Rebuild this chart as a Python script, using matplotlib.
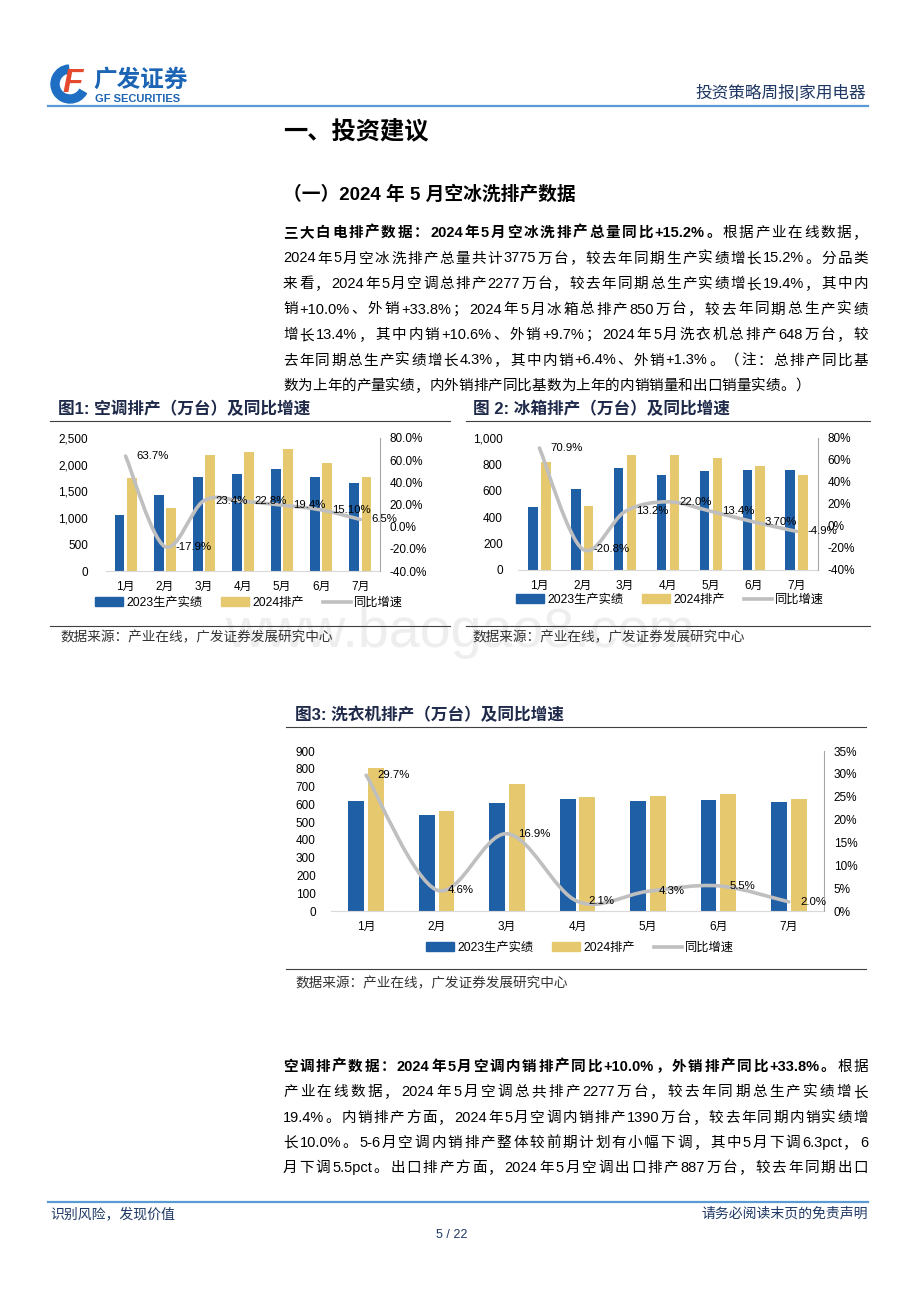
import re
import numpy as np
import matplotlib
matplotlib.use('Agg')
import matplotlib.pyplot as plt
from matplotlib.path import Path
from matplotlib.patches import PathPatch, Patch, Wedge
from matplotlib.lines import Line2D
from matplotlib.font_manager import FontProperties

plt.rcParams['font.family'] = ['Liberation Sans', 'Noto Sans CJK SC']

W, H = 920, 1302
BLUE = '#1F5FA6'
GOLD = '#E6C86E'
GREY = '#BFBFBF'
NAVY = '#1F3864'
TITLE = '#1F2A4A'

months = ['1月', '2月', '3月', '4月', '5月', '6月', '7月']
series_names = ['2023生产实绩', '2024排产', '同比增速']

# 图1 空调排产（万台）
ac_2023 = [1055, 1425, 1770, 1820, 1920, 1770, 1655]
ac_2024 = [1752, 1180, 2185, 2236, 2293, 2035, 1763]
ac_yoy = [63.7, -17.9, 23.4, 22.8, 19.4, 15.1, 6.5]
ac_lbl = ['63.7%', '-17.9%', '23.4%', '22.8%', '19.4%', '15.10%', '6.5%']

# 图2 冰箱排产（万台）
fr_2023 = [481, 615, 772, 716, 749, 759, 754]
fr_2024 = [818, 486, 873, 872, 848, 790, 722]
fr_yoy = [70.9, -20.8, 13.2, 22.0, 13.4, 3.7, -4.9]
fr_lbl = ['70.9%', '-20.8%', '13.2%', '22.0%', '13.4%', '3.70%', '-4.9%']

# 图3 洗衣机排产（万台）
wm_2023 = [619, 540, 609, 628, 619, 624, 614]
wm_2024 = [806, 562, 714, 639, 647, 656, 628]
wm_yoy = [29.7, 4.6, 16.9, 2.1, 4.3, 5.5, 2.0]
wm_lbl = ['29.7%', '4.6%', '16.9%', '2.1%', '4.3%', '5.5%', '2.0%']

para1 = [
    [('三大白电排产数据：2024年5月空冰洗排产总量同比+15.2%。', True), ('根据产业在线数据，', False)],
    [('2024年5月空冰洗排产总量共计3775万台，较去年同期生产实绩增长15.2%。分品类', False)],
    [('来看，2024年5月空调总排产2277万台，较去年同期总生产实绩增长19.4%，其中内', False)],
    [('销+10.0%、外销+33.8%；2024年5月冰箱总排产850万台，较去年同期总生产实绩', False)],
    [('增长13.4%，其中内销+10.6%、外销+9.7%；2024年5月洗衣机总排产648万台，较', False)],
    [('去年同期总生产实绩增长4.3%，其中内销+6.4%、外销+1.3%。（注：总排产同比基', False)],
    [('数为上年的产量实绩，内外销排产同比基数为上年的内销销量和出口销量实绩。）', False)],
]
para2 = [
    [('空调排产数据：2024年5月空调内销排产同比+10.0%，外销排产同比+33.8%。', True), ('根据', False)],
    [('产业在线数据，2024年5月空调总共排产2277万台，较去年同期总生产实绩增长', False)],
    [('19.4%。内销排产方面，2024年5月空调内销排产1390万台，较去年同期内销实绩增', False)],
    [('长10.0%。5-6月空调内销排产整体较前期计划有小幅下调，其中5月下调6.3pct，6', False)],
    [('月下调5.5pct。出口排产方面，2024年5月空调出口排产887万台，较去年同期出口', False)],
]
source = '数据来源：产业在线，广发证券发展研究中心'

fig = plt.figure(figsize=(9.2, 13.02), dpi=100)
renderer = fig.canvas.get_renderer()


def put(x, y, s, size, **kw):
    return fig.text(x / W, 1 - y / H, s, fontsize=size, **kw)


def hline(x0, x1, y, color, lw):
    fig.add_artist(Line2D([x0 / W, x1 / W], [1 - y / H, 1 - y / H],
                          transform=fig.transFigure, color=color, lw=lw))


TOKEN = re.compile(r'[A-Za-z0-9.%+\-]+|.')


def advance(t, prop):
    # pen advance of a token, measured between two wide glyphs
    w1 = renderer.get_text_width_height_descent('中' + t + '中', prop, ismath=False)[0]
    w0 = renderer.get_text_width_height_descent('中中', prop, ismath=False)[0]
    return w1 - w0


def draw_line(y, parts, size=10.5, x0=283, x1=868, justify=True):
    normal = FontProperties(family=['Liberation Sans', 'Noto Sans CJK SC'], size=size)
    bold = FontProperties(family=['Liberation Sans', 'Noto Sans CJK SC'], size=size, weight='bold')
    toks = [(t, bold if b else normal) for s, b in parts for t in TOKEN.findall(s)]
    advs = [advance(t, p) for t, p in toks]
    extra = (x1 - x0 - sum(advs)) / (len(toks) - 1) if justify else 0
    x = x0
    for (t, p), a in zip(toks, advs):
        fig.text(x / W, 1 - y / H, t, fontproperties=p, va='baseline', ha='left', color='#000000')
        x += a + extra


def smooth_path(xs, ys):
    pts = np.column_stack([xs, ys]).astype(float)
    ext = np.vstack([pts[0], pts, pts[-1]])
    verts = [pts[0]]
    codes = [Path.MOVETO]
    for i in range(len(pts) - 1):
        p0, p1, p2, p3 = ext[i], ext[i + 1], ext[i + 2], ext[i + 3]
        verts += [p1 + (p2 - p0) / 6, p2 - (p3 - p1) / 6, p2]
        codes += [Path.CURVE4] * 3
    return Path(verts, codes)


def draw_chart(box, a, b, yoy, lbl, ylim, yticks, y2lim, y2ticks, y2fmt,
               bw, off, fs, lpad, legend_xy):
    l, t, r, btm = box
    ax = fig.add_axes([l / W, 1 - btm / H, (r - l) / W, (btm - t) / H])
    x = np.arange(len(months))
    ax.bar(x - off, a, bw, color=BLUE, zorder=2)
    ax.bar(x + off, b, bw, color=GOLD, zorder=2)
    ax.set_xlim(-0.5, len(months) - 0.5)
    ax.set_ylim(ylim)
    ax.set_yticks(yticks)
    ax.set_yticklabels([f'{v:,}' for v in yticks])
    ax.set_xticks(x)
    ax.set_xticklabels(months)
    for s in ['top', 'left', 'right']:
        ax.spines[s].set_visible(False)
    ax.spines['bottom'].set_color('#D9D9D9')
    ax.tick_params(length=0, labelsize=fs)
    ax.tick_params(axis='y', pad=lpad)
    ax.tick_params(axis='x', pad=7)
    ax.patch.set_alpha(0)

    ax2 = ax.twinx()
    ax2.set_ylim(y2lim)
    ax2.set_yticks(y2ticks)
    ax2.set_yticklabels([y2fmt.format(v) for v in y2ticks])
    for s in ['top', 'left', 'bottom']:
        ax2.spines[s].set_visible(False)
    ax2.spines['right'].set_color('#A6A6A6')
    ax2.tick_params(length=0, labelsize=fs, pad=7)
    ax2.add_patch(PathPatch(smooth_path(x, yoy), fill=False, ec=GREY, lw=2.6,
                            capstyle='round', zorder=3))
    for i, (v, s) in enumerate(zip(yoy, lbl)):
        ax2.annotate(s, (i, v), xytext=(8, 0), textcoords='offset points',
                     ha='left', va='center', fontsize=fs - 0.3, zorder=4)
    handles = [Patch(color=BLUE), Patch(color=GOLD), Line2D([], [], color=GREY, lw=2.6)]
    ax2.legend(handles, series_names, loc='center',
               bbox_to_anchor=(legend_xy[0] / W, 1 - legend_xy[1] / H),
               bbox_transform=fig.transFigure, ncol=3, frameon=False,
               fontsize=fs + 0.3, handlelength=2.3, handleheight=0.7,
               handletextpad=0.3, columnspacing=1.5, borderaxespad=0, borderpad=0)
    return ax, ax2


# header / logo
logo = fig.add_axes([48 / W, 1 - 105 / H, 44 / W, 42 / H])
logo.set_xlim(0, 44)
logo.set_ylim(0, 42)
logo.axis('off')
logo.add_patch(Wedge((22, 21), 19, 95, 330, width=8, color='#1E6FC4'))
logo.text(25, 21, 'F', fontsize=24, fontweight='bold', fontstyle='italic',
          color='#E64A2E', ha='center', va='center')
put(93, 80, '广发证券', 17, weight='bold', color='#1C64B4', va='center')
put(95, 99, 'GF SECURITIES', 8, weight='bold', color='#1C64B4', va='center')
put(866, 92, '投资策略周报|家用电器', 12, color=NAVY, ha='right', va='center')
hline(48, 868, 106, '#5B9BD5', 1.6)

put(283, 131, '一、投资建议', 17.5, weight='bold', va='center')
put(283, 195, '（一）2024 年 5 月空冰洗排产数据', 13.5, weight='bold', va='center')

for i, parts in enumerate(para1):
    draw_line(232 + 25.5 * i + 5, parts, justify=(i < len(para1) - 1))

# figure 1 and 2
put(58, 409, '图1: 空调排产（万台）及同比增速', 12, weight='bold', color=TITLE, va='center')
put(473, 409, '图 2: 冰箱排产（万台）及同比增速', 12, weight='bold', color=TITLE, va='center')
hline(50, 450, 421, '#404040', 0.8)
hline(466, 870, 421, '#404040', 0.8)

draw_chart((106, 438, 380, 571), ac_2023, ac_2024, ac_yoy, ac_lbl,
           (0, 2500), range(0, 2501, 500), (-40, 80), range(-40, 81, 20), '{:.1f}%',
           0.25, 0.155, 8.5, 13, (249, 603))
draw_chart((518, 438, 818, 570), fr_2023, fr_2024, fr_yoy, fr_lbl,
           (0, 1000), range(0, 1001, 200), (-40, 80), range(-40, 81, 20), '{:.0f}%',
           0.22, 0.15, 8.5, 11, (670, 600))

hline(50, 450, 626, '#404040', 0.8)
hline(466, 870, 626, '#404040', 0.8)
put(460, 633, 'www.baogao8.com', 40, color='#E3E3E3', alpha=0.6, ha='center', va='center', zorder=0)
put(60, 637, source, 9.8, color='#333333', va='center')
put(472, 637, source, 9.8, color='#333333', va='center')

# figure 3
put(295, 715, '图3: 洗衣机排产（万台）及同比增速', 12, weight='bold', color=TITLE, va='center')
hline(286, 866, 727, '#404040', 0.8)
draw_chart((331, 751, 824, 911), wm_2023, wm_2024, wm_yoy, wm_lbl,
           (0, 900), range(0, 901, 100), (0, 35), range(0, 36, 5), '{:.0f}%',
           0.227, 0.14, 8.5, 11, (580, 948))
hline(286, 866, 969, '#404040', 0.8)
put(295, 983, source, 9.8, color='#333333', va='center')

for i, parts in enumerate(para2):
    draw_line(1066 + 25.3 * i + 5, parts)

# footer
hline(48, 868, 1202, '#5B9BD5', 1.6)
put(50, 1214, '识别风险，发现价值', 10, color=NAVY, va='center')
put(868, 1214, '请务必阅读末页的免责声明', 10, color=NAVY, ha='right', va='center')
put(452, 1235, '5 / 22', 9, color=NAVY, ha='center', va='center')

fig.savefig('out.png', dpi=100)
